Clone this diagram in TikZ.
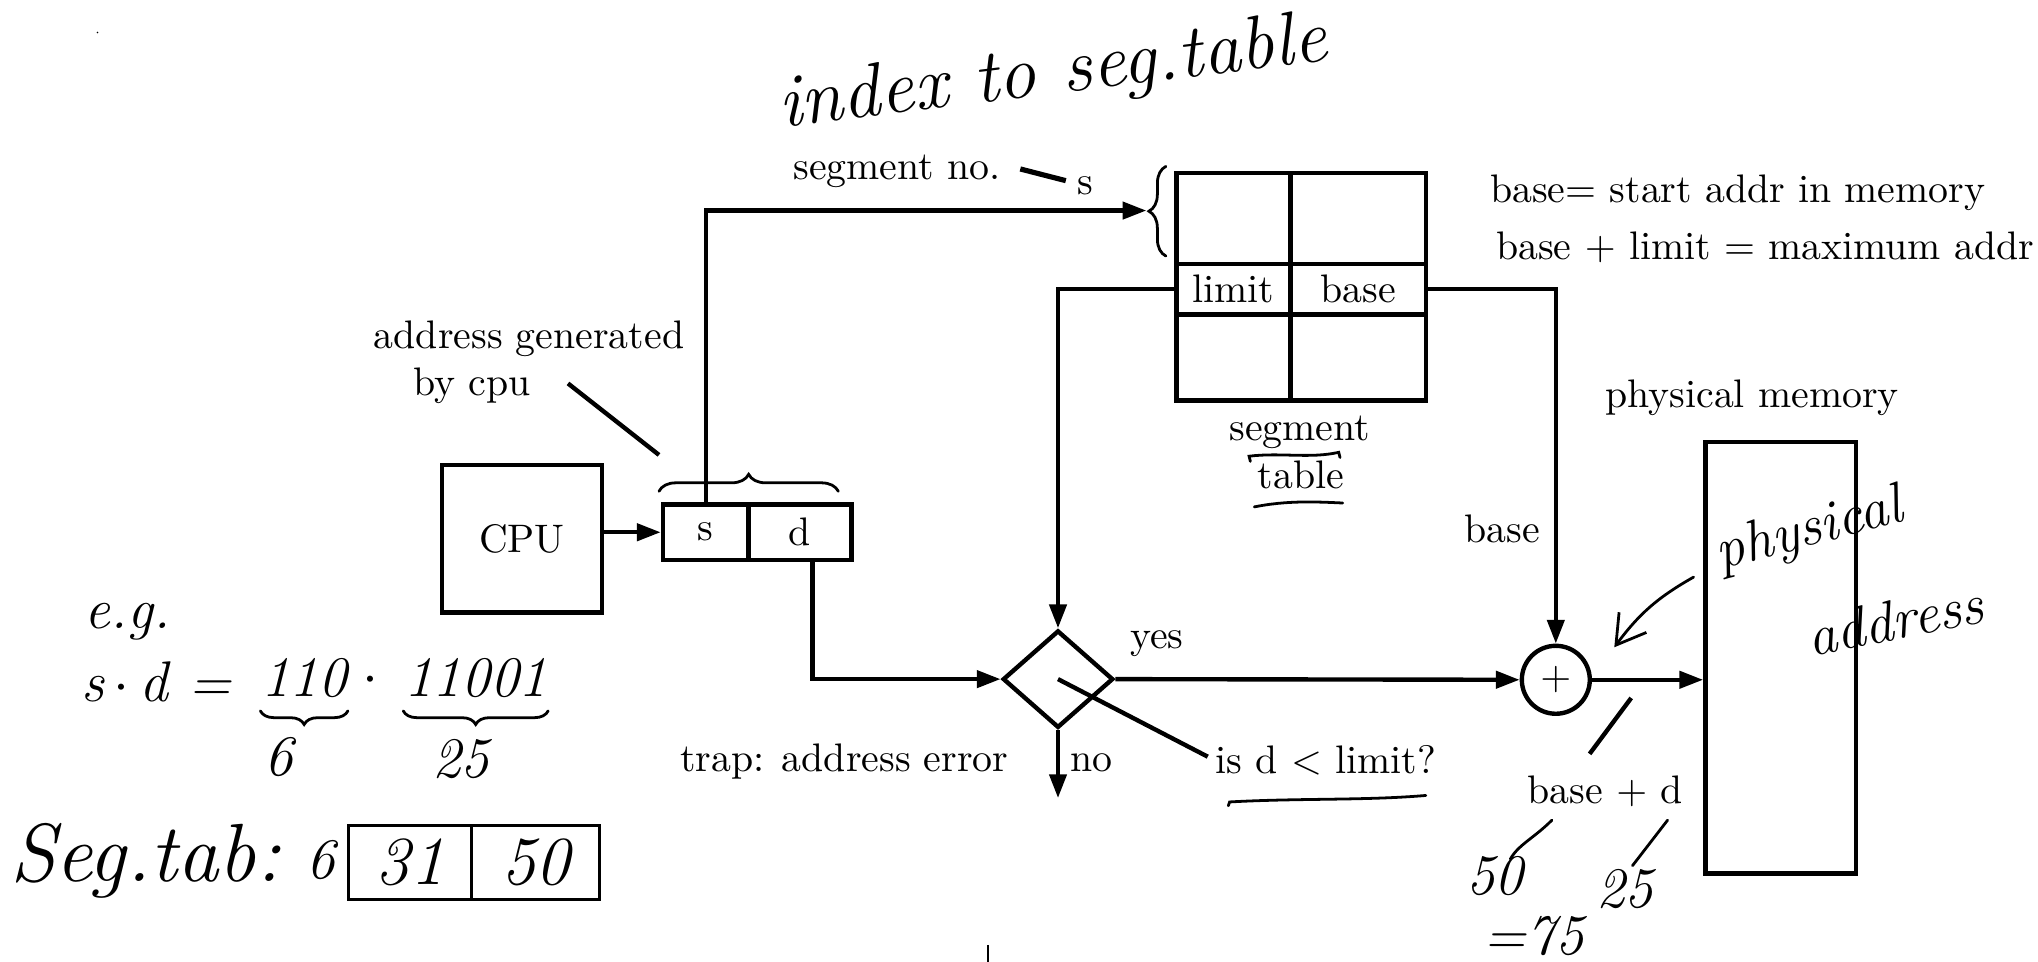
\documentclass[tikz,border=0pt]{standalone}
\usepackage{amsmath,amssymb}
\usetikzlibrary{arrows.meta,positioning,shapes.geometric,decorations.pathreplacing}

\tikzset{
  blk/.style={draw,line width=1.1pt,inner sep=0pt},
  arr/.style={line width=1.1pt,-{Triangle[length=2.1mm,width=1.5mm]}},
  lbl/.style={inner sep=0pt},
  hand/.style={inner sep=0pt,font=\Large\itshape},
  pen/.style={line width=0.7pt,line cap=round},
}

\begin{document}
\begin{tikzpicture}[x=0.01147cm,y=-0.01147cm]
\useasboundingbox (0,0) rectangle (1568,740);

% cpu and logical address s|d
\node[blk,minimum width=1.41cm,minimum height=1.30cm] (cpu) at (401.5,414.5) {CPU};
\node[blk,minimum width=0.757cm,minimum height=0.493cm] (sfld) at (543,409.5) {s};
\node[blk,minimum width=0.906cm,minimum height=0.493cm] (dfld) at (615.5,409.5) {d};
\draw[arr] (cpu.east |- sfld.west) -- (sfld.west);
\draw[pen,decorate,decoration={brace,amplitude=0.15cm}] (507,378) -- (645,378);

\node[lbl] (addrgen) at (407,261) {address generated};
\node[lbl] (bycpu) at (363,297) {by cpu};
\coordinate (gentail) at (437,295);
\coordinate (genhead) at (507,350);
\draw[line width=1.1pt] (gentail) -- (genhead);

% segment table
\node[blk,minimum width=1.009cm,minimum height=0.803cm] (t1a) at (949,168) {};
\node[blk,minimum width=1.193cm,minimum height=0.803cm] (t1b) at (1045,168) {};
\node[blk,minimum width=1.009cm,minimum height=0.447cm] (lim) at (949,222.5) {limit};
\node[blk,minimum width=1.193cm,minimum height=0.447cm] (bas) at (1045,222.5) {base};
\node[blk,minimum width=1.009cm,minimum height=0.757cm] (t3a) at (949,275) {};
\node[blk,minimum width=1.193cm,minimum height=0.757cm] (t3b) at (1045,275) {};
\node[lbl] (seglbl) at (1000,333) {segment};
\node[lbl] (tbllbl) at (1001,365) {table};

\node[lbl] (segno) at (690,132) {segment no.};
\node[lbl] (sidx) at (835,143) {s};
\coordinate (nota) at (785,130);
\coordinate (notb) at (820,139);
\draw[line width=1.3pt] (nota) -- (notb);
\coordinate (stip) at (882,162);
\draw[arr] (sfld.north) |- (stip);
\draw[pen,decorate,decoration={brace,amplitude=0.15cm}] (897,197) -- (897,128);

\node[lbl] (basedef) at (1337,148) {base= start addr in memory};
\node[lbl] (maxdef) at (1358,190) {base $+$ limit $=$ maximum addr};

% check and add
\node[blk,diamond,minimum width=0.975cm,minimum height=0.86cm] (chk) at (814,522.5) {};
\node[blk,circle,minimum size=0.6cm] (add) at (1197,523) {$+$};
\node[blk,minimum width=1.33cm,minimum height=3.81cm] (mem) at (1370,506) {};
\node[lbl] (physmem) at (1348,306) {physical memory};

\draw[arr] (lim.west) -| (chk.north);
\draw[arr] (bas.east) -| (add.north);
\node[lbl] (baselbl) at (1156,407) {base};
\draw[arr] ([xshift=0.11cm]dfld.south) |- (chk.west);
\draw[arr] (chk.east) -- (add.west);
\node[lbl] (yeslbl) at (890,495) {yes};
\draw[arr] (add.east) -- (add.east -| mem.west);

\coordinate (trapend) at (814,614);
\draw[arr] (chk.south) -- (trapend);
\node[lbl] (nolbl) at (840,587) {no};
\node[lbl] (traplbl) at (649.5,586) {trap: address error};

\node[lbl] (isd) at (1020,585) {is d $<$ limit?};
\draw[line width=1.1pt,shorten >=2pt] (chk.center) -- (isd.west);

\node[lbl] (sumlbl) at (1235,609) {base $+$ d};
\coordinate (suma) at (1255,537);
\coordinate (sumb) at (1223,580);
\draw[line width=1.1pt] (suma) -- (sumb);

% handwritten notes
\node[hand,font=\fontsize{19}{22}\selectfont\itshape,rotate=7] (idxnote) at (810,58) {index to seg.table};
\draw[pen] (962,355) -- (961,351) .. controls (985,348) and (1008,353) .. (1030,348) -- (1031,352);
\draw[pen] (965,390) .. controls (990,385) and (1012,386) .. (1033,387);
\draw[pen] (945,620) -- (946,617) .. controls (1000,614) and (1050,616) .. (1097,612);

\node[hand] (eg) at (98,478) {e.g.};
\node[hand,anchor=base west] (sdeq) at (62,540) {s$\,\cdot\,$d =};
\node[hand] (segbits) at (234,522) {110};
\node[hand] (bitdot) at (285,524) {$\cdot$};
\node[hand] (offbits) at (366,522) {11001};
\draw[pen,decorate,decoration={brace,amplitude=0.12cm,mirror}] ([yshift=-3pt]segbits.south west) -- ([yshift=-3pt]segbits.south east);
\draw[pen,decorate,decoration={brace,amplitude=0.12cm,mirror}] ([yshift=-3pt]offbits.south west) -- ([yshift=-3pt]offbits.south east);
\node[hand,below=0.33cm of segbits,xshift=-0.22cm] (segnum) {6};
\node[hand,below=0.35cm of offbits,xshift=-0.13cm] (offnum) {25};

\node[hand,font=\huge\itshape] (segtab) at (112,662) {Seg.tab:};
\node[hand] (segsix) at (247,662) {6};
\node[draw,pen,font=\LARGE\itshape,minimum width=1.09cm,minimum height=0.61cm] (ent31) at (315.5,663.5) {31};
\node[draw,pen,font=\LARGE\itshape,minimum width=1.124cm,minimum height=0.61cm] (ent50) at (412,663.5) {50};

\node[hand,rotate=15] (physnote) at (1392,409) {physical};
\node[hand,rotate=11] (addrnote) at (1458,477) {address};
\coordinate (pa1) at (1303,444);
\coordinate (pa2) at (1242,498);
\draw[pen,-{Straight Barb[length=2.5mm,width=3mm]}] (pa1) to[bend right=12] (pa2);

\node[hand] (fifty) at (1150,674) {50};
\node[hand] (twofive) at (1250,684) {25};
\node[hand] (seventyfive) at (1180,720) {=75};
\draw[pen] (1194,631) .. controls (1180,645) and (1168,650) .. (1162,661);
\draw[pen] (1283,631) -- (1256,666);

\draw[line width=0.6pt] (760,727) -- (760,740);
\fill (75,25) circle (0.7);
\end{tikzpicture}
\end{document}
